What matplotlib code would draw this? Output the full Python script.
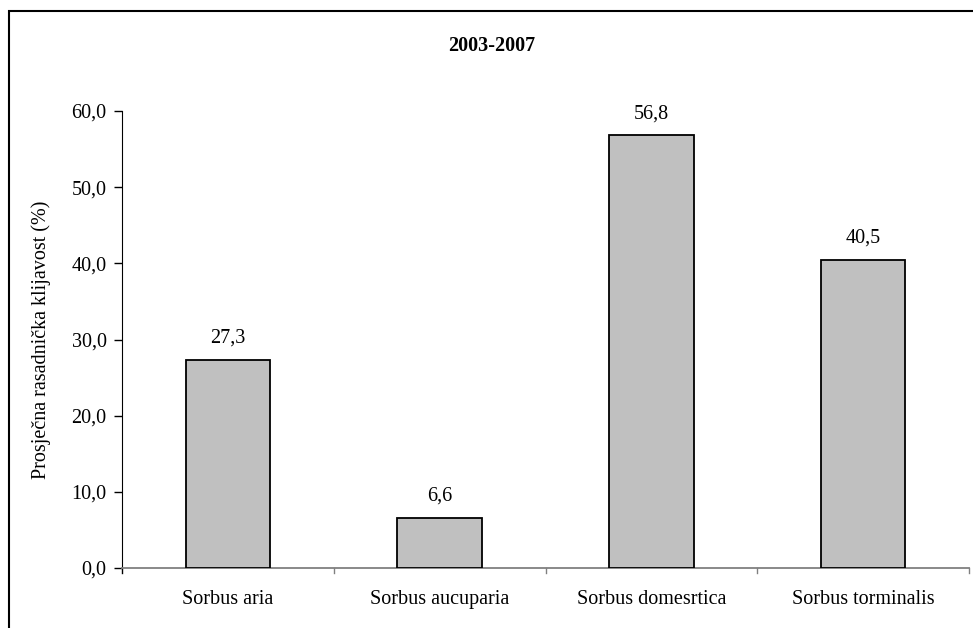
import matplotlib
matplotlib.use("Agg")
import matplotlib.pyplot as plt
from matplotlib.patches import Rectangle

categories = ["Sorbus aria", "Sorbus aucuparia", "Sorbus domesrtica", "Sorbus torminalis"]
values = [27.3, 6.6, 56.8, 40.5]
yticks = [0, 10, 20, 30, 40, 50, 60]
title = "2003-2007"
ylabel = "Prosječna rasadnička klijavost (%)"

plt.rcParams['font.family'] = ['Liberation Serif', 'DejaVu Serif']
FS = 14.5
W, H = 973, 628
fig = plt.figure(figsize=(W/100, H/100), dpi=100)
fig.patches.append(Rectangle((9/W, -0.1), 1.2, 1 - 11/H + 0.1, transform=fig.transFigure,
                             fill=False, edgecolor='black', lw=1.5))

ax = fig.add_axes([122/W, 1 - 568/H, (969-122)/W, (568-111)/H])
x = list(range(len(categories)))
ax.bar(x, values, width=0.40, color='#C0C0C0', edgecolor='black', linewidth=1.3, zorder=3)
for xi, v in zip(x, values):
    ax.text(xi, v + 1.6, f"{v:.1f}".replace('.', ','), ha='center', va='bottom', fontsize=FS)

ax.set_xlim(-0.5, len(categories) - 0.5)
ax.set_ylim(0, 60)
ax.set_yticks(yticks)
ax.set_yticklabels([f"{t:.1f}".replace('.', ',') for t in yticks], fontsize=FS)
ax.set_xticks(x)
ax.set_xticklabels(categories, fontsize=FS)
ax.tick_params(axis='x', length=0, pad=16)
ax.tick_params(axis='y', length=6, width=1, pad=5)
for b in [0.5 + i for i in range(len(categories))]:
    ax.plot([b, b], [0, -0.012], transform=ax.get_xaxis_transform(), color='#808080', lw=1, clip_on=False)
ax.plot([-0.5, -0.5], [0, -0.012], transform=ax.get_xaxis_transform(), color='black', lw=1, clip_on=False)

for s in ['top', 'right']:
    ax.spines[s].set_visible(False)
ax.spines['left'].set_color('black')
ax.spines['bottom'].set_color('#808080')
ax.spines['bottom'].set_linewidth(1.3)
ax.set_ylabel(ylabel, fontsize=FS, labelpad=15)
fig.text(492/W, 1 - 46/H, title, ha='center', va='center', fontsize=FS, fontweight='bold')

fig.savefig("out.png", dpi=100)
